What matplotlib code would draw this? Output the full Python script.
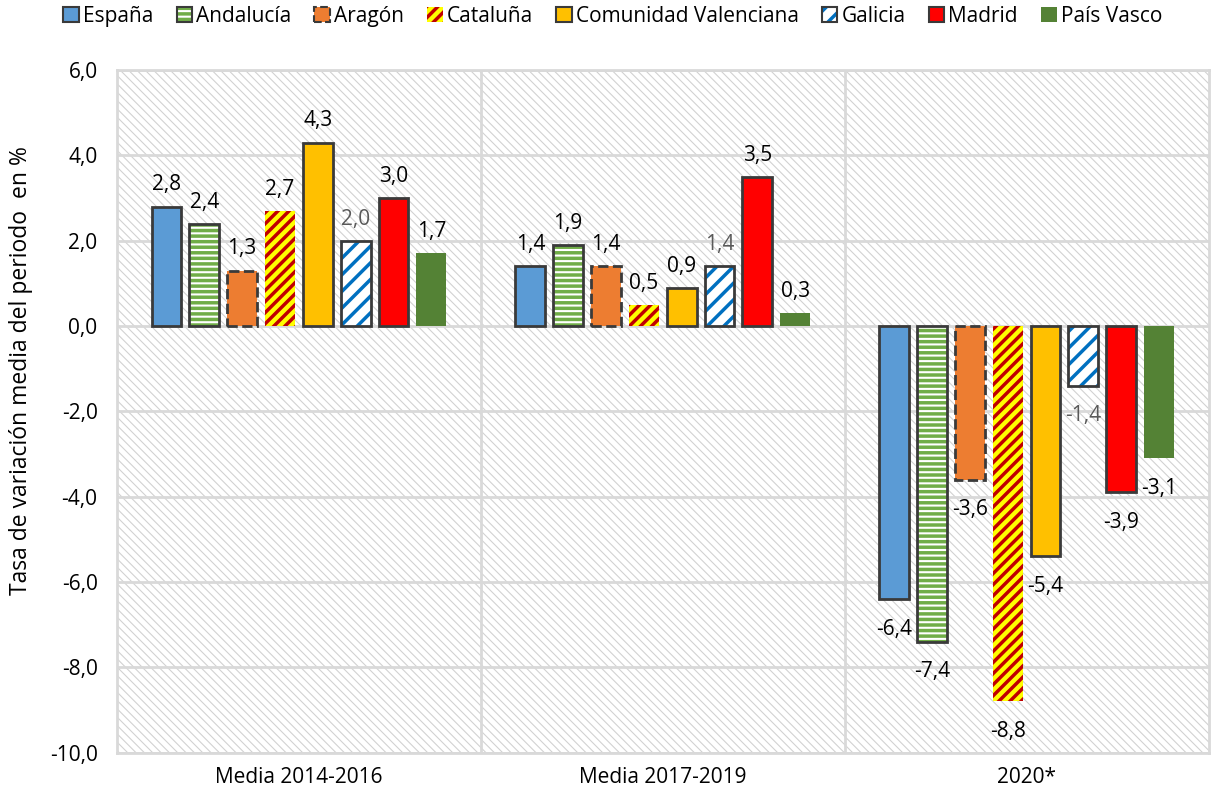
import matplotlib
matplotlib.use('Agg')
import matplotlib.pyplot as plt
from matplotlib.patches import Patch, Rectangle

categories = ['Media 2014-2016', 'Media 2017-2019', '2020*']
regions = ['España', 'Andalucía', 'Aragón', 'Cataluña', 'Comunidad Valenciana',
           'Galicia', 'Madrid', 'País Vasco']
espana = [2.8, 1.4, -6.4]
andalucia = [2.4, 1.9, -7.4]
aragon = [1.3, 1.4, -3.6]
cataluna = [2.7, 0.5, -8.8]
valenciana = [4.3, 0.9, -5.4]
galicia = [2.0, 1.4, -1.4]
madrid = [3.0, 3.5, -3.9]
pais_vasco = [1.7, 0.3, -3.1]
series = [espana, andalucia, aragon, cataluna, valenciana, galicia, madrid, pais_vasco]
yticks = [6, 4, 2, 0, -2, -4, -6, -8, -10]

EDGE = '#3a3a3a'
styles = [
    dict(face='#5B9BD5', hatch=None, hc=None, edge=EDGE, ls='-', tc='black'),
    dict(face='white', hatch='---', hc='#70AD47', edge=EDGE, ls='-', tc='black'),
    dict(face='#ED7D31', hatch=None, hc=None, edge=EDGE, ls='--', tc='black'),
    dict(face='#FFFF00', hatch='///', hc='#C00000', edge=None, ls='-', tc='black'),
    dict(face='#FFC000', hatch=None, hc=None, edge=EDGE, ls='-', tc='black'),
    dict(face='white', hatch='//', hc='#0070C0', edge=EDGE, ls='-', tc='#595959'),
    dict(face='#FF0000', hatch=None, hc=None, edge=EDGE, ls='-', tc='black'),
    dict(face='#548235', hatch=None, hc=None, edge=None, ls='-', tc='black'),
]

FS = 15
plt.rcParams['font.family'] = ['Open Sans', 'DejaVu Sans']
plt.rcParams['hatch.linewidth'] = 2.5

fig = plt.figure(figsize=(12.11, 8.01), dpi=100)
ax = fig.add_axes([0.0966, 0.0603, 0.9014, 0.8523])

# hatched background
bg = Rectangle((0, 0), 1, 1, transform=ax.transAxes, facecolor='white',
               edgecolor='#d2d2d2', hatch='\\\\\\\\', linewidth=0, zorder=0)
if hasattr(bg, 'set_hatch_linewidth'):
    bg.set_hatch_linewidth(0.8)
ax.add_patch(bg)

ax.set_xlim(-0.5, 2.5)
ax.set_ylim(-10, 6)
ax.set_yticks(yticks)
ax.set_yticklabels([f'{v:.1f}'.replace('.', ',') for v in yticks])
ax.set_xticks(range(len(categories)))
ax.set_xticklabels(categories)
ax.tick_params(length=0, labelsize=FS, colors='black')
ax.tick_params(axis='y', pad=14)
ax.tick_params(axis='x', pad=10)
for y in yticks:
    ax.axhline(y, color='#d9d9d9', lw=2, zorder=1)
for x in [0.5, 1.5]:
    ax.axvline(x, color='#d9d9d9', lw=2, zorder=1)
for s in ax.spines.values():
    s.set_color('#d9d9d9')
    s.set_linewidth(2)

pitch = 0.104
width = 0.082
handles = []
for i, (vals, st) in enumerate(zip(series, styles)):
    xs = [c + (i - 3.5) * pitch for c in range(len(categories))]
    ax.bar(xs, vals, width=width, color=st['face'],
           edgecolor=st['hc'] if st['hc'] else 'none',
           hatch=st['hatch'], linewidth=0, zorder=3)
    h = [Patch(facecolor=st['face'], edgecolor=st['hc'] if st['hc'] else 'none',
               hatch=st['hatch'], linewidth=0)]
    if st['edge']:
        ax.bar(xs, vals, width=width, fill=False, edgecolor=st['edge'],
               linewidth=2, linestyle=st['ls'], zorder=4)
        h.append(Patch(fill=False, edgecolor=st['edge'], linewidth=1.5, linestyle=st['ls']))
    handles.append(tuple(h))
    for x, v in zip(xs, vals):
        ax.annotate(f'{v:.1f}'.replace('.', ','), (x, v),
                    xytext=(0, 8 if v >= 0 else -14), textcoords='offset points',
                    ha='center', va='bottom' if v >= 0 else 'top',
                    fontsize=FS, color=st['tc'], zorder=5)

ax.set_ylabel('Tasa de variación media del periodo  en %', fontsize=16.5)
ax.yaxis.set_label_coords(-0.077, 0.56)

fig.legend(handles, regions, loc='center', bbox_to_anchor=(0.506, 0.98), ncol=8,
           frameon=False, fontsize=FS, handlelength=0.75, handleheight=0.75,
           handletextpad=0.2, columnspacing=1.1)

fig.savefig('out.png', dpi=100)
